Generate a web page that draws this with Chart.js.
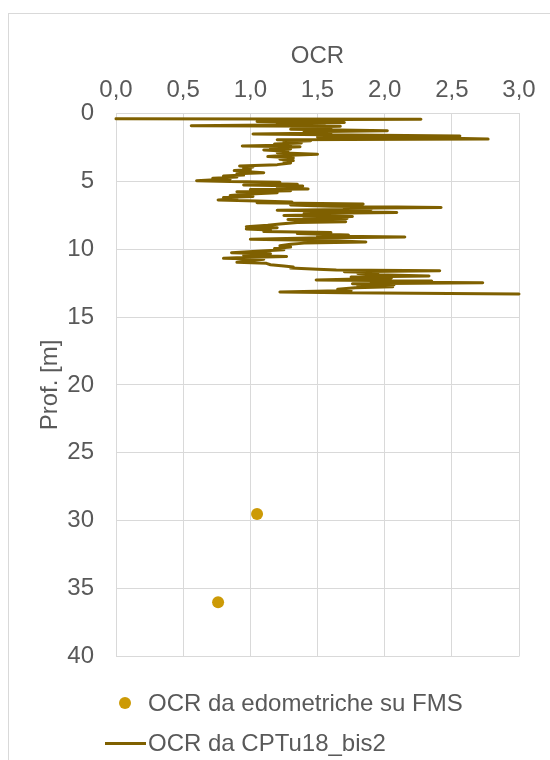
<!DOCTYPE html>
<html>
<head>
<meta charset="utf-8">
<script src="https://cdn.jsdelivr.net/npm/chart.js@4"></script>
<style>
  html, body { margin: 0; padding: 0; background: #fff; overflow: hidden; }
  body { width: 550px; height: 760px; position: relative; font-family: 'Liberation Sans', Arial, sans-serif; }
  #frame { position: absolute; left: 8px; top: 13px; width: 600px; height: 800px; border: 1px solid #D9D9D9; box-sizing: border-box; }
  #wrap { position: absolute; left: 0; top: 0; width: 550px; height: 760px; }
  .leg { position: absolute; left: 148px; font-size: 24px; color: #595959; line-height: 28px; white-space: nowrap; }
  .mk { position: absolute; }
</style>
</head>
<body>
<div id="frame"></div>
<div id="wrap"><canvas id="ocrChart" width="550" height="760"></canvas></div>
<div class="mk" id="dotMk" style="left:119px;top:697px;width:12px;height:12px;border-radius:50%;background:#CC9A06;"></div>
<div class="leg" style="top:689px;">OCR da edometriche su FMS</div>
<div class="mk" id="lineMk" style="left:105px;top:742px;width:41px;height:3px;background:#7F6000;"></div>
<div class="leg" style="top:729px;">OCR da CPTu18_bis2</div>
<script>
// Profilo OCR da CPTu (profondità in m)
const depthCPTu = [0.40, 0.44, 0.48, 0.55, 0.60, 0.68, 0.75, 0.82, 0.91, 0.96, 1.02, 1.10, 1.18, 1.28, 1.36, 1.45,
  1.52, 1.60, 1.67, 1.74, 1.82, 1.90, 1.95, 2.02, 2.10, 2.18, 2.26, 2.34, 2.41, 2.46, 2.55, 2.62, 2.70, 2.80,
  2.90, 3.02, 3.10, 3.19, 3.28, 3.38, 3.48, 3.56, 3.66, 3.78, 3.88, 3.95, 4.05, 4.15, 4.22, 4.30, 4.37, 4.45,
  4.55, 4.62, 4.70, 4.78, 4.84, 4.92, 4.96, 5.02, 5.08, 5.15, 5.22, 5.28, 5.35, 5.42, 5.50, 5.57, 5.62, 5.70,
  5.77, 5.85, 5.95, 6.05, 6.12, 6.20, 6.30, 6.38, 6.45, 6.53, 6.58, 6.68, 6.75, 6.85, 6.93, 7.00, 7.07, 7.13,
  7.20, 7.30, 7.38, 7.46, 7.52, 7.60, 7.68, 7.75, 7.82, 7.90, 7.98, 8.05, 8.15, 8.25, 8.35, 8.42, 8.52, 8.60,
  8.70, 8.78, 8.86, 8.96, 9.04, 9.10, 9.18, 9.28, 9.36, 9.48, 9.56, 9.65, 9.75, 9.85, 9.95, 10.05, 10.15, 10.26,
  10.34, 10.45, 10.55, 10.62, 10.68, 10.75, 10.85, 10.97, 11.05, 11.15, 11.25, 11.32, 11.40, 11.48, 11.54,
  11.59, 11.66, 11.73, 11.80, 11.88, 11.98, 12.05, 12.12, 12.20, 12.27, 12.35, 12.42, 12.47, 12.55, 12.62,
  12.70, 12.78, 12.85, 12.95, 13.05, 13.15, 13.22, 13.30];
const ocrCPTu = [0.00, 2.27, 1.10, 1.45, 1.05, 1.70, 1.20, 1.55, 0.56, 1.67, 1.35, 1.60, 1.30, 2.02, 1.40, 1.60,
  1.02, 1.75, 2.56, 1.50, 2.40, 2.77, 1.20, 1.45, 1.25, 1.38, 1.18, 1.30, 0.94, 1.37, 1.15, 1.30, 1.10, 1.28,
  1.20, 1.50, 1.25, 1.13, 1.32, 1.22, 1.32, 1.25, 1.30, 1.20, 0.92, 1.02, 0.95, 1.00, 0.88, 0.98, 1.10, 0.90,
  0.95, 0.80, 0.90, 0.72, 0.85, 0.70, 0.60, 0.85, 1.22, 1.05, 1.35, 0.95, 1.39, 1.20, 1.30, 1.43, 1.00, 1.30,
  0.90, 1.20, 1.00, 0.85, 1.02, 0.80, 0.90, 0.76, 1.05, 1.31, 1.05, 1.84, 1.30, 1.60, 2.42, 1.70, 1.90, 1.20,
  1.60, 2.09, 1.40, 1.60, 1.25, 1.76, 1.40, 1.72, 1.28, 1.50, 1.71, 1.35, 1.22, 1.13, 0.97, 1.20, 0.97, 1.15,
  1.10, 1.60, 1.35, 1.73, 1.50, 2.15, 1.45, 1.00, 1.55, 1.86, 1.40, 1.30, 1.22, 1.30, 1.18, 1.25, 1.05, 0.86,
  1.15, 0.95, 1.27, 0.95, 0.80, 1.10, 1.00, 0.90, 1.12, 1.15, 1.25, 1.32, 1.30, 1.50, 1.64,
  2.41, 1.70, 1.95, 1.80, 1.95, 2.33, 1.75, 2.05, 1.80, 1.49, 2.35, 1.90, 2.73, 1.76, 2.07,
  1.80, 2.06, 1.78, 1.65, 1.75, 1.22, 1.70, 3.00];

// OCR da prove edometriche su FMS
const depthFMS = [29.5, 36.0];
const ocrFMS = [1.05, 0.76];

// Assi
const xTickValues = [0, 0.5, 1, 1.5, 2, 2.5, 3];
const yTickValues = [0, 5, 10, 15, 20, 25, 30, 35, 40];

const fontFamily = "'Liberation Sans', Arial, sans-serif";
const textColor = '#595959';
const gridColor = '#D9D9D9';

const ctx = document.getElementById('ocrChart').getContext('2d');

new Chart(ctx, {
  type: 'scatter',
  data: {
    datasets: [
      {
        label: 'OCR da edometriche su FMS',
        data: ocrFMS.map((v, i) => ({ x: v, y: depthFMS[i] })),
        backgroundColor: '#CC9A06',
        borderColor: '#CC9A06',
        pointRadius: 6,
        pointBorderWidth: 0,
        showLine: false
      },
      {
        label: 'OCR da CPTu18_bis2',
        data: ocrCPTu.map((v, i) => ({ x: v, y: depthCPTu[i] })),
        borderColor: '#7F6000',
        backgroundColor: '#7F6000',
        borderWidth: 3,
        borderCapStyle: 'round',
        borderJoinStyle: 'round',
        pointRadius: 0,
        showLine: true,
        tension: 0,
        clip: false
      }
    ]
  },
  options: {
    responsive: false,
    animation: false,
    layout: { padding: { left: 0, top: 0, right: 31, bottom: 103.5 } },
    plugins: {
      legend: { display: false },
      tooltip: { enabled: false }
    },
    scales: {
      x: {
        type: 'linear',
        position: 'top',
        min: 0,
        max: 3,
        afterFit: (s) => { s.height = 113.3; },
        afterBuildTicks: (s) => { s.ticks = xTickValues.map(v => ({ value: v })); },
        ticks: {
          padding: 9,
          color: textColor,
          font: { family: fontFamily, size: 24 },
          maxRotation: 0,
          callback: (v) => v.toFixed(1).replace('.', ',')
        },
        grid: { color: gridColor, lineWidth: 1, drawTicks: false },
        border: { color: gridColor },
        title: {
          display: true,
          text: 'OCR',
          color: textColor,
          font: { family: fontFamily, size: 24 },
          padding: { top: 41.6, bottom: 0 }
        }
      },
      y: {
        type: 'linear',
        reverse: true,
        min: 0,
        max: 40,
        afterFit: (s) => { s.width = 116; },
        afterBuildTicks: (s) => { s.ticks = yTickValues.map(v => ({ value: v })); },
        ticks: {
          padding: 22,
          color: textColor,
          font: { family: fontFamily, size: 24 }
        },
        grid: { color: gridColor, lineWidth: 1, drawTicks: false },
        border: { color: gridColor },
        title: {
          display: true,
          text: 'Prof. [m]',
          color: textColor,
          font: { family: fontFamily, size: 24 },
          padding: { top: 35.6, bottom: 0 }
        }
      }
    }
  }
});
</script>
</body>
</html>
